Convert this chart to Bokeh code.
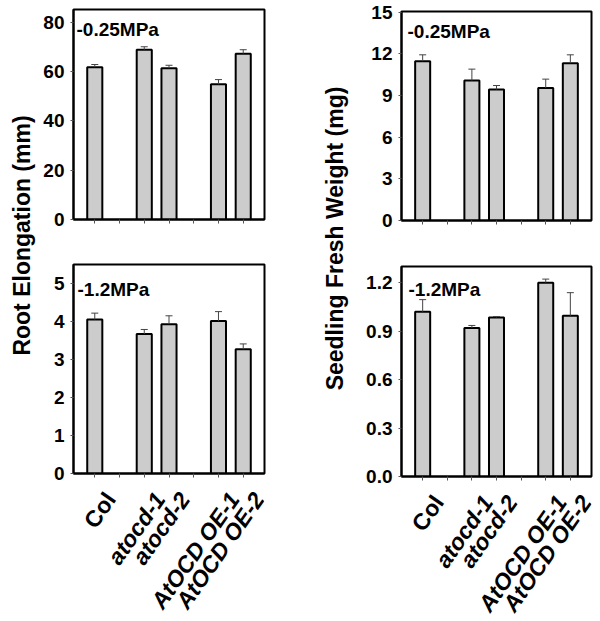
import math
from bokeh.plotting import figure
from bokeh.layouts import row, column
from bokeh.models import (ColumnDataSource, FixedTicker, Whisker, TeeHead, Label,
                          Range1d, NumeralTickFormatter, CustomJSTickFormatter)
from bokeh.core.properties import value
from bokeh.embed import file_html
from bokeh.resources import INLINE

# ---------------- data ----------------
slot_labels = ["Col", "", "atocd-1", "atocd-2", "", "AtOCD OE-1", "AtOCD OE-2"]
genotypes = ["Col", "atocd-1", "atocd-2", "AtOCD OE-1", "AtOCD OE-2"]

root_low_mean = [61.7, 68.8, 61.3, 54.8, 67.2]
root_low_err = [1.1, 1.2, 1.2, 1.9, 1.6]
root_high_mean = [4.05, 3.67, 3.93, 4.01, 3.27]
root_high_err = [0.17, 0.12, 0.22, 0.25, 0.14]
fw_low_mean = [11.47, 10.08, 9.43, 9.55, 11.33]
fw_low_err = [0.46, 0.82, 0.29, 0.63, 0.60]
fw_high_mean = [1.02, 0.92, 0.985, 1.20, 0.995]
fw_high_err = [0.075, 0.015, 0.005, 0.022, 0.143]

root_low_ticks = [0, 20, 40, 60, 80]
root_high_ticks = [0, 1, 2, 3, 4, 5]
fw_low_ticks = [0, 3, 6, 9, 12, 15]
fw_high_ticks = [0, 0.3, 0.6, 0.9, 1.2]

tag_low = "-0.25MPa"
tag_high = "-1.2MPa"
ylabel_root = "Root Elongation (mm)"
ylabel_fw = "Seedling Fresh Weight (mg)"

# ---------------- style ----------------
FONT = "Liberation Sans"
TICK_SIZE = "19px"
XLAB_SIZE = "23px"
TITLE_SIZE = "23px"
XLAB_ANGLE = math.radians(55)
italic_names = {"atocd-1", "atocd-2", "AtOCD OE-1", "AtOCD OE-2"}

TOTAL_H = 618
TOP_H = 242
X_PAD = 0.86
BOTTOM_GAP = 12         # panel border below its axis line
LABEL_DROP = 14         # name anchor, pixels below the axis line


def panel(means, errs, ticks, ymax, tag, tag_off, fmt,
          width, height, left_b, frame_w, top_b, frame_h):
    xs = [slot_labels.index(g) for g in genotypes]
    src = ColumnDataSource(dict(
        x=xs, top=means, upper=[m + e for m, e in zip(means, errs)]))
    p = figure(width=width, height=height,
               x_range=Range1d(-X_PAD, len(slot_labels) - 1 + X_PAD),
               y_range=Range1d(0, ymax),
               toolbar_location=None, output_backend="svg",
               min_border_left=left_b, min_border_right=width - left_b - frame_w,
               min_border_top=top_b, min_border_bottom=height - top_b - frame_h)
    p.outline_line_color = "black"
    p.outline_line_width = 2
    p.xgrid.visible = False
    p.ygrid.visible = False

    p.vbar(x="x", top="top", bottom=0, width=0.61, source=src,
           fill_color="#cccccc", line_color="black", line_width=2)
    w = Whisker(source=src, base="x", lower="top", upper="upper",
                dimension="height", line_color="#444444", line_width=1,
                upper_head=TeeHead(size=7, line_color="#444444", line_width=1),
                lower_head=None, level="overlay")
    p.add_layout(w)

    # x axis: ticks only (names are drawn in a strip below)
    xa = p.xaxis[0]
    xa.ticker = FixedTicker(ticks=list(range(len(slot_labels))))
    xa.formatter = CustomJSTickFormatter(code="return ''")
    xa.axis_line_color = "black"
    xa.axis_line_width = 2
    xa.major_tick_line_color = "#555555"
    xa.major_tick_out = 4
    xa.major_tick_in = 0
    xa.minor_tick_line_color = None
    xa.major_label_standoff = 0
    xa.major_label_text_font_size = "1px"

    ya = p.yaxis[0]
    ya.ticker = FixedTicker(ticks=ticks)
    if fmt:
        ya.formatter = NumeralTickFormatter(format=fmt)
    ya.axis_line_color = "black"
    ya.axis_line_width = 2
    ya.major_tick_line_color = "#555555"
    ya.major_tick_out = 3
    ya.major_tick_in = 0
    ya.minor_tick_line_color = None
    ya.major_label_standoff = 6
    ya.major_label_text_font = FONT
    ya.major_label_text_font_style = "bold"
    ya.major_label_text_font_size = TICK_SIZE
    ya.major_label_text_color = "black"

    p.add_layout(Label(x=-X_PAD, y=ymax, x_offset=tag_off[0], y_offset=-tag_off[1],
                       text=tag, text_align="left", text_baseline="alphabetic",
                       text_font=FONT, text_font_style="bold",
                       text_font_size=TICK_SIZE, text_color="black"))
    return p


def strip(panel_fig, width, height, left_b, frame_w, gap):
    """Category names below a panel; y in pixels below the panel's axis line."""
    f = figure(width=width, height=height, x_range=panel_fig.x_range,
               y_range=Range1d(-(gap + height), -gap),
               toolbar_location=None, output_backend="svg",
               min_border_left=left_b, min_border_right=width - left_b - frame_w,
               min_border_top=0, min_border_bottom=0,
               x_axis_type=None, y_axis_type=None)
    f.outline_line_color = None
    f.grid.visible = False
    xs = [slot_labels.index(g) for g in genotypes]
    for style in ("bold", "bold italic"):
        sel = [i for i, g in enumerate(genotypes)
               if (g in italic_names) == (style == "bold italic")]
        src = ColumnDataSource(dict(x=[xs[i] for i in sel],
                                    y=[-LABEL_DROP] * len(sel),
                                    t=[genotypes[i] for i in sel]))
        f.text(x="x", y="y", text="t", source=src, angle=XLAB_ANGLE,
               x_offset=5, text_align="right", text_baseline="top",
               text_font=value(FONT), text_font_style=style,
               text_font_size=value(XLAB_SIZE), text_color="black")
    return f


def label_fig(text, width, cx, cy):
    f = figure(width=width, height=TOTAL_H, x_range=Range1d(0, width),
               y_range=Range1d(0, TOTAL_H), min_border=0,
               toolbar_location=None, output_backend="svg",
               x_axis_type=None, y_axis_type=None)
    f.outline_line_color = None
    f.add_layout(Label(x=cx, y=TOTAL_H - cy, text=text,
                       angle=math.pi / 2, text_align="center", text_baseline="middle",
                       text_font=FONT, text_font_style="bold",
                       text_font_size=TITLE_SIZE, text_color="black"))
    return f


# left column: page x 40..308 ; frames 71..264
tl = panel(root_low_mean, root_low_err, root_low_ticks, 85.1, tag_low, (3, 20), None,
           268, TOP_H, 31, 193, 9, 210)
bl_h = 22 + 209 + BOTTOM_GAP
bl = panel(root_high_mean, root_high_err, root_high_ticks, 5.5, tag_high, (4, 25), None,
           268, bl_h, 32, 193, 22, 209)
bl_strip = strip(bl, 268, TOTAL_H - TOP_H - bl_h, 32, 193, BOTTOM_GAP)

# right column: page x 350..598
tr = panel(fw_low_mean, fw_low_err, fw_low_ticks, 15.05, tag_low, (6, 20), None,
           248, TOP_H, 51, 192, 11, 209)
br_h = 24 + 210 + BOTTOM_GAP
br = panel(fw_high_mean, fw_high_err, fw_high_ticks, 1.3, tag_high, (7, 23), "0.0",
           248, br_h, 49, 192, 24, 210)
br_strip = strip(br, 248, TOTAL_H - TOP_H - br_h, 49, 192, BOTTOM_GAP)

lab1 = label_fig(ylabel_root, 40, 21, 235)
lab2 = label_fig(ylabel_fw, 42, 26, 238)

layout = row(lab1, column(tl, bl, bl_strip), lab2, column(tr, br, br_strip))

open("out.html", "w").write(file_html(layout, INLINE))
